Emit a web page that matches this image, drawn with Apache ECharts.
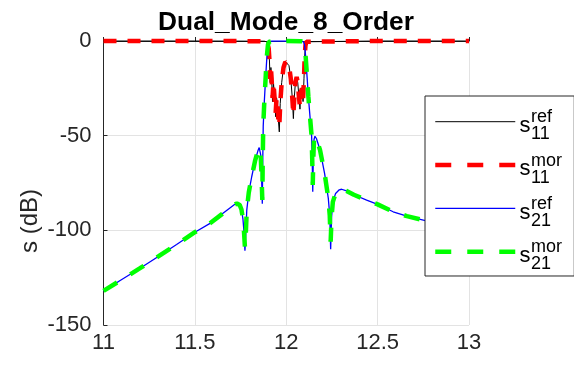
<!DOCTYPE html>
<html><head><meta charset="utf-8">
<script src="https://cdn.jsdelivr.net/npm/echarts@6/dist/echarts.min.js"></script>
<style>html,body{margin:0;padding:0;background:#fff}#c{width:574px;height:367px}</style>
</head><body><div id="c"></div>
<script>
const FONT = '"Liberation Sans", Arial, Helvetica, sans-serif';
const titleText = 'Dual_Mode_8_Order';
const yName = 's (dB)';
const xTicks = [11, 11.5, 12, 12.5, 13];
const yTicks = [-150, -100, -50, 0];

const s21Freq = [11.0, 11.1, 11.2, 11.3, 11.4, 11.5, 11.583, 11.65, 11.69, 11.715, 11.73, 11.745, 11.755, 11.763, 11.769, 11.774, 11.779, 11.784, 11.795, 11.811, 11.83, 11.845, 11.852, 11.856, 11.86, 11.864, 11.869, 11.871, 11.874, 11.88, 11.888, 11.895, 11.9, 11.905, 11.92, 12.0, 12.08, 12.095, 12.1, 12.106, 12.114, 12.121, 12.13, 12.139, 12.142, 12.145, 12.148, 12.152, 12.157, 12.165, 12.185, 12.21, 12.23, 12.238, 12.243, 12.248, 12.255, 12.27, 12.29, 12.303, 12.33, 12.37, 12.44, 12.5, 12.585, 12.66, 12.75, 12.85, 12.93, 13.0];
const s21Ref  = [-132, -126, -120, -113.8, -107.5, -101, -96.3, -91.3, -88.3, -86.5, -85.8, -86.6, -89, -94, -101, -110.8, -101, -89.3, -80, -71.7, -63, -58, -56.3, -55.8, -60, -69, -86, -66, -45, -32, -18, -7, -2, -0.5, -0.1, -0.05, -0.1, -0.5, -2, -8, -19, -29.4, -40, -50.5, -62, -79.6, -62, -52, -50.3, -51.5, -57.6, -70, -83, -92, -110, -93, -85, -80.5, -78.6, -78.3, -79.2, -81.2, -84, -86.3, -90.2, -92.5, -94.6, -97, -98.8, -100.2];
const s21Mor  = [-132, -126, -120, -113.8, -107.5, -101, -96.3, -91.3, -88.3, -86.5, -85.8, -86.6, -89, -94, -101, -109, -101, -89.3, -80, -71.7, -63, -58, -56.3, -55.8, -60, -69, -84, -66, -45, -32, -18, -7, -2, -0.5, -0.1, -0.05, -0.1, -0.5, -2, -8, -19, -29.4, -40, -50.5, -62, -76, -62, -52, -50.3, -51.5, -57.6, -70, -83, -92, -106, -93, -85, -80.5, -78.6, -78.3, -79.2, -81.2, -84, -86.3, -90.2, -92.5, -94.6, -97, -98.8, -100.2];

const s11Freq = [11.0, 11.5, 11.88, 11.895, 11.9, 11.904, 11.908, 11.912, 11.916, 11.92, 11.925, 11.93, 11.936, 11.942, 11.947, 11.952, 11.957, 11.962, 11.967, 11.975, 11.985, 11.995, 12.005, 12.015, 12.025, 12.033, 12.039, 12.044, 12.05, 12.057, 12.063, 12.069, 12.075, 12.08, 12.086, 12.092, 12.097, 12.101, 12.105, 12.11, 12.12, 12.5, 13.0];
const s11Ref  = [0, 0, -0.1, -0.5, -1.5, -4, -10, -22, -14, -20, -32, -22, -30, -40, -30, -33, -42, -48, -33, -22, -14, -10.8, -10.4, -13, -20, -30, -41, -30, -22, -19, -22, -29, -36, -27, -25, -32, -20, -8, -2.5, -0.4, -0.05, 0, 0];
const s11Mor  = [0, 0, -0.1, -0.5, -1.5, -4, -10, -20, -14, -20, -30, -22, -30, -38, -30, -33, -42, -45, -33, -22, -14, -11, -10.8, -13, -20, -30, -39, -30, -22, -19, -22, -29, -35, -27, -25, -31, -20, -8, -2.5, -0.4, -0.05, 0, 0];

const seriesNames = ['s11ref', 's11mor', 's21ref', 's21mor'];
const seriesSup = ['ref', 'mor', 'ref', 'mor'];
const seriesSub = ['11', '11', '21', '21'];
const seriesColors = ['#000000', '#ff0000', '#0000ff', '#00ff00'];

function pairs(fs, vs) { return fs.map((f, i) => [f, vs[i]]); }

const styles = [
  {width: 1, type: 'solid', legendType: 'solid'},
  {width: 4.5, type: [13, 11], legendType: [16, 16]},
  {width: 1.3, type: 'solid', legendType: 'solid'},
  {width: 4.5, type: [16, 15.5], legendType: [16, 16]}
];
const datas = [pairs(s11Freq, s11Ref), pairs(s11Freq, s11Mor), pairs(s21Freq, s21Ref), pairs(s21Freq, s21Mor)];

// legend layout
const LEG = {left: 425, top: 96, padTop: 8.7, padBottom: 7.3, padLeft: 8, padRight: 9, itemW: 80, txtW: 45, txtH: 34, gap: 9.33};
const legendTexts = [];
seriesNames.forEach((n, i) => {
  const c = LEG.top + LEG.padTop + LEG.txtH / 2 + i * (LEG.txtH + LEG.gap);
  const x0 = LEG.left + LEG.padLeft + LEG.itemW + 6.5;
  legendTexts.push({type: 'text', z: 100, x: x0, y: c + 4.2,
    style: {text: 's', fontFamily: FONT, fontSize: 22, fill: '#000', textAlign: 'left', textVerticalAlign: 'middle'}});
  legendTexts.push({type: 'text', z: 100, x: x0 + 11.5, y: c - 4.3,
    style: {text: seriesSup[i], fontFamily: FONT, fontSize: 18, fill: '#000', textAlign: 'left', textVerticalAlign: 'middle'}});
  legendTexts.push({type: 'text', z: 100, x: x0 + 11.5, y: c + 12.7,
    style: {text: seriesSub[i], fontFamily: FONT, fontSize: 18, fill: '#000', textAlign: 'left', textVerticalAlign: 'middle'}});
});

const chart = echarts.init(document.getElementById('c'), null, {renderer: 'canvas'});
chart.setOption({
  animation: false,
  backgroundColor: '#ffffff',
  title: {
    text: titleText, left: 281, top: 5, textAlign: 'center',
    textStyle: {fontFamily: FONT, fontSize: 26.3, fontWeight: 'bold', color: '#000'}
  },
  grid: {left: 103.5, right: 105, top: 41, bottom: 42, containLabel: false},
  xAxis: {
    type: 'value', min: xTicks[0], max: xTicks[xTicks.length - 1], interval: 0.5,
    axisLine: {show: true, lineStyle: {color: '#262626', width: 1}},
    axisTick: {show: true, inside: true, length: 4, lineStyle: {color: '#262626'}},
    axisLabel: {fontFamily: FONT, fontSize: 22, color: '#262626', margin: 7},
    splitLine: {show: true, lineStyle: {color: '#e3e3e3', width: 1}}
  },
  yAxis: {
    type: 'value', min: yTicks[0], max: yTicks[yTicks.length - 1], interval: 50,
    axisLine: {show: true, lineStyle: {color: '#262626', width: 1}},
    axisTick: {show: true, inside: true, length: 4, lineStyle: {color: '#262626'}},
    axisLabel: {fontFamily: FONT, fontSize: 22, color: '#262626', margin: 12},
    splitLine: {show: true, lineStyle: {color: '#e3e3e3', width: 1}}
  },
  legend: {
    orient: 'vertical', left: LEG.left, top: LEG.top, z: 10,
    padding: [LEG.padTop, LEG.padRight, LEG.padBottom, LEG.padLeft],
    itemGap: LEG.gap, itemWidth: LEG.itemW, itemHeight: 6,
    backgroundColor: '#ffffff', borderColor: '#262626', borderWidth: 1, borderRadius: 0,
    selectedMode: false,
    itemStyle: {opacity: 0},
    data: seriesNames.map((n, i) => ({name: n, lineStyle: {width: styles[i].width, type: styles[i].legendType}})),
    formatter: function () { return '{b|}'; },
    textStyle: {
      fontFamily: FONT, color: '#000',
      rich: {b: {width: LEG.txtW, height: LEG.txtH, lineHeight: LEG.txtH}}
    }
  },
  graphic: [{
    type: 'text', x: 30, y: 221, rotation: Math.PI / 2, z: 100,
    style: {text: yName, fontFamily: FONT, fontSize: 24, fill: '#262626', textAlign: 'center', textVerticalAlign: 'middle'}
  }].concat(legendTexts),
  series: seriesNames.map((n, i) => ({
    name: n, type: 'line', data: datas[i], symbol: 'none', showSymbol: false, clip: false,
    lineStyle: {color: seriesColors[i], width: styles[i].width, type: styles[i].type, cap: 'butt'},
    itemStyle: {color: seriesColors[i]},
    z: 2
  }))
});
</script></body></html>
